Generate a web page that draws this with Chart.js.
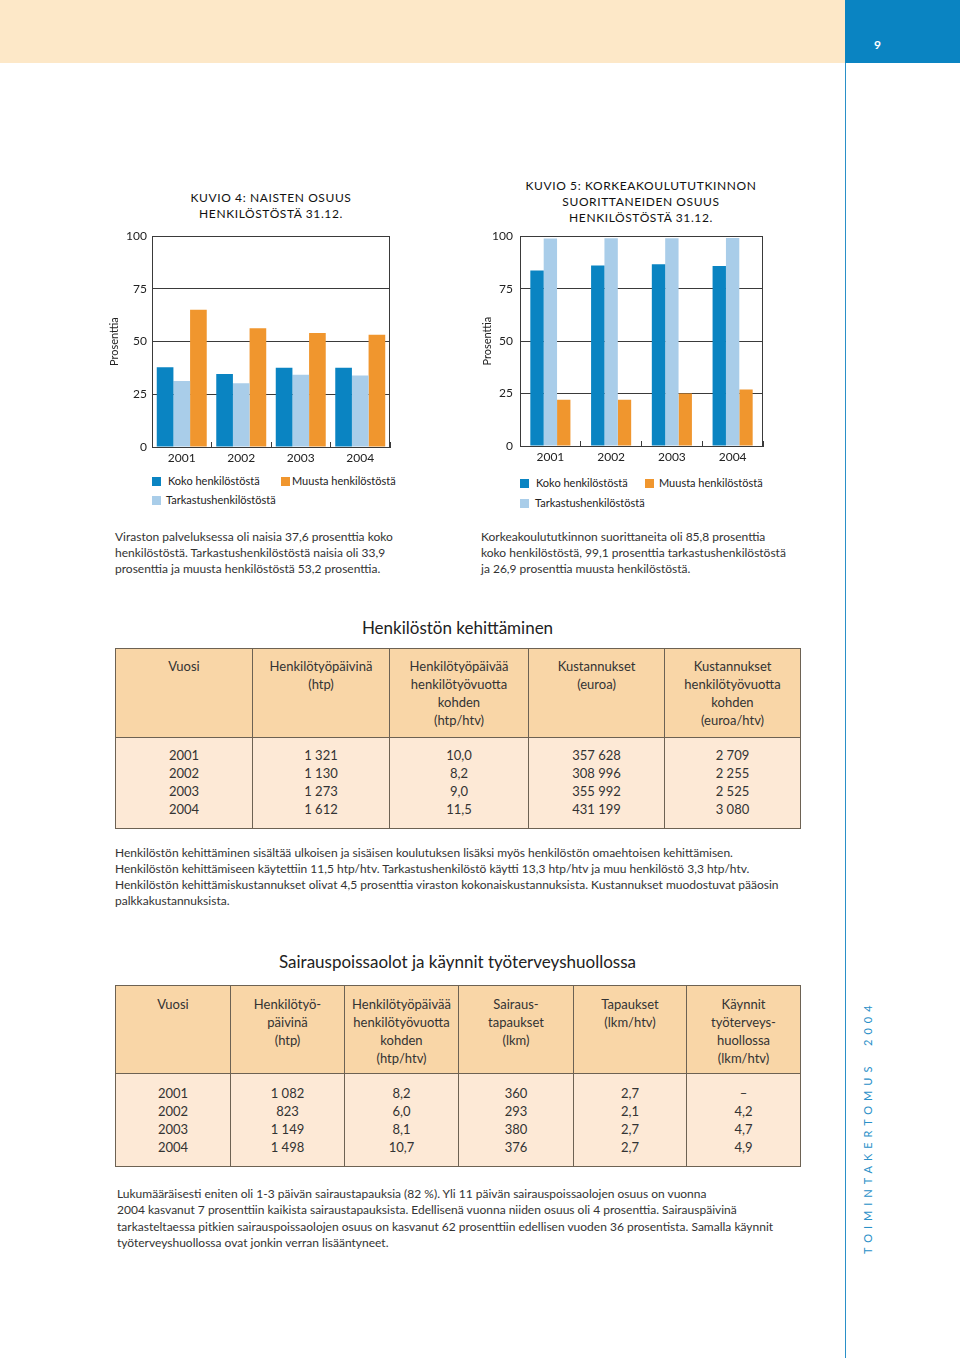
<!DOCTYPE html>
<html lang="fi">
<head>
<meta charset="utf-8">
<title>Toimintakertomus 2004</title>
<script src="https://cdn.jsdelivr.net/npm/chart.js@4.4.1/dist/chart.umd.min.js"></script>
<style>
  html, body { margin: 0; padding: 0; background: #fff; }
  body { width: 960px; height: 1358px; position: relative; overflow: hidden;
         font-family: Lato, "Open Sans", sans-serif; color: #222; }
  .abs { position: absolute; }
  #topband { left: 0; top: 0; width: 845px; height: 63px; background: #fde8c8; }
  #pagebox { left: 845px; top: 0; width: 115px; height: 63px; background: #0a84c2;
             color: #fff; font-weight: bold; font-size: 12px; }
  #pagebox span { position: absolute; left: 29px; top: 37px; }
  #vline { left: 845px; top: 63px; width: 1px; height: 1295px; background: #2a90c8; }
  #vtext { left: 862px; top: 1248px; transform-origin: 0 0; transform: rotate(-90deg);
           white-space: nowrap; color: #2a90c8; font-size: 11px; letter-spacing: 5.0px; line-height: 12px; margin-top: 6px; }
  .ctitle { text-align: center; font-size: 12px; letter-spacing: 0.6px; line-height: 16px; color: #111; }
  .chartbox { position: absolute; }
  .legend { position: absolute; font-size: 11px; color: #222; }
  .legend .item { position: absolute; white-space: nowrap; line-height: 12px; }
  .legend .sw { position: absolute; width: 9px; height: 9px; }
  .para { font-size: 12px; line-height: 16px; color: #333; white-space: nowrap; }
  .heading { font-size: 17px; text-align: center; width: 685px; left: 115px; color: #222; }
  table { border-collapse: collapse; table-layout: fixed; position: absolute; font-size: 13px; color: #333; }
  td { border: 1.5px solid #6d6253; text-align: center; vertical-align: top; line-height: 18px; padding: 0; }
  thead td { background: #f9d6a7; }
  tbody td { background: #fde9d6; }
</style>
</head>
<body>
<div id="topband" class="abs"></div>
<div id="pagebox" class="abs"><span>9</span></div>
<div id="vline" class="abs"></div>
<div id="vtext" class="abs">TOIMINTAKERTOMUS&nbsp;&nbsp;2004</div>

<div class="abs ctitle" style="left:151px; top:190px; width:240px;">KUVIO 4: NAISTEN OSUUS<br>HENKILÖSTÖSTÄ 31.12.</div>
<div class="abs ctitle" style="left:491px; top:178px; width:300px;">KUVIO 5: KORKEAKOULUTUTKINNON<br>SUORITTANEIDEN OSUUS<br>HENKILÖSTÖSTÄ 31.12.</div>

<div class="chartbox" style="left:105px; top:224px; width:295px; height:245px;"><canvas id="chart1"></canvas></div>
<div class="chartbox" style="left:475px; top:222px; width:298px; height:246px;"><canvas id="chart2"></canvas></div>
<div id="legend1" class="legend"></div>
<div id="legend2" class="legend"></div>

<div class="abs para" style="left:115px; top:529px;">Viraston palveluksessa oli naisia 37,6 prosenttia koko<br>henkilöstöstä. Tarkastushenkilöstöstä naisia oli 33,9<br>prosenttia ja muusta henkilöstöstä 53,2 prosenttia.</div>
<div class="abs para" style="left:481px; top:529px;">Korkeakoulututkinnon suorittaneita oli 85,8 prosenttia<br>koko henkilöstöstä, 99,1 prosenttia tarkastushenkilöstöstä<br>ja 26,9 prosenttia muusta henkilöstöstä.</div>

<div class="abs heading" style="top:617px;">Henkilöstön kehittäminen</div>
<table id="table1" style="left:115px; top:648px; width:685px;"></table>
<div class="abs para" style="left:115px; top:845px;">Henkilöstön kehittäminen sisältää ulkoisen ja sisäisen koulutuksen lisäksi myös henkilöstön omaehtoisen kehittämisen.<br>Henkilöstön kehittämiseen käytettiin 11,5 htp/htv. Tarkastushenkilöstö käytti 13,3 htp/htv ja muu henkilöstö 3,3 htp/htv.<br>Henkilöstön kehittämiskustannukset olivat 4,5 prosenttia viraston kokonaiskustannuksista. Kustannukset muodostuvat pääosin<br>palkkakustannuksista.</div>

<div class="abs heading" style="top:951px;">Sairauspoissaolot ja käynnit työterveyshuollossa</div>
<table id="table2" style="left:115px; top:985px; width:685px;"></table>
<div class="abs para" style="left:117px; top:1186px; line-height:16.3px;">Lukumääräisesti eniten oli 1-3 päivän sairaustapauksia (82 %). Yli 11 päivän sairauspoissaolojen osuus on vuonna<br>2004 kasvanut 7 prosenttiin kaikista sairaustapauksista. Edellisenä vuonna niiden osuus oli 4 prosenttia. Sairauspäivinä<br>tarkasteltaessa pitkien sairauspoissaolojen osuus on kasvanut 62 prosenttiin edellisen vuoden 36 prosentista. Samalla käynnit<br>työterveyshuollossa ovat jonkin verran lisääntyneet.</div>

<script>
// Chart data
const years = ['2001', '2002', '2003', '2004'];
const seriesNames = ['Koko henkilöstöstä', 'Tarkastushenkilöstöstä', 'Muusta henkilöstöstä'];
const seriesColors = ['#0a84c2', '#a9cde9', '#f0962e'];
const yTicks = [0, 25, 50, 75, 100];

// Kuvio 4: naisten osuus (%)
const naisetKoko = [37.8, 34.6, 37.6, 37.6];
const naisetTark = [31.3, 30.3, 34.3, 33.9];
const naisetMuu = [65.1, 56.3, 54.1, 53.2];

// Kuvio 5: korkeakoulututkinnon suorittaneet (%)
const korkeaKoko = [83.6, 86.0, 86.6, 85.8];
const korkeaTark = [98.9, 99.0, 99.0, 99.1];
const korkeaMuu = [22.0, 22.0, 25.0, 26.9];

// Tables
const kehHeaders = ['Vuosi', 'Henkilötyöpäivinä<br>(htp)', 'Henkilötyöpäivää<br>henkilötyövuotta<br>kohden<br>(htp/htv)', 'Kustannukset<br>(euroa)', 'Kustannukset<br>henkilötyövuotta<br>kohden<br>(euroa/htv)'];
const kehWidths = [137, 137, 139, 136, 136];
const kehHtp = ['1 321', '1 130', '1 273', '1 612'];
const kehHtpHtv = ['10,0', '8,2', '9,0', '11,5'];
const kehEuro = ['357 628', '308 996', '355 992', '431 199'];
const kehEuroHtv = ['2 709', '2 255', '2 525', '3 080'];

const sairHeaders = ['Vuosi', 'Henkilötyö-<br>päivinä<br>(htp)', 'Henkilötyöpäivää<br>henkilötyövuotta<br>kohden<br>(htp/htv)', 'Sairaus-<br>tapaukset<br>(lkm)', 'Tapaukset<br>(lkm/htv)', 'Käynnit<br>työterveys-<br>huollossa<br>(lkm/htv)'];
const sairWidths = [115, 114, 114, 115, 113, 114];
const sairHtp = ['1 082', '823', '1 149', '1 498'];
const sairHtpHtv = ['8,2', '6,0', '8,1', '10,7'];
const sairLkm = ['360', '293', '380', '376'];
const sairLkmHtv = ['2,7', '2,1', '2,7', '2,7'];
const sairKaynnit = ['–', '4,2', '4,7', '4,9'];

const fontFamily = 'Lato, "Open Sans", sans-serif';
const axisColor = '#3a3a3a';

// Draw the right border of the plot
const framePlugin = {
    id: 'frame',
    afterDraw(chart) {
        const a = chart.chartArea;
        const ctx = chart.ctx;
        ctx.save();
        ctx.strokeStyle = axisColor;
        ctx.lineWidth = 1;
        ctx.beginPath();
        ctx.moveTo(Math.round(a.right) - 0.5, a.top);
        ctx.lineTo(Math.round(a.right) - 0.5, a.bottom);
        ctx.stroke();
        ctx.restore();
    }
};

function makeChart(id, data, opts) {
    const ctx = document.getElementById(id).getContext('2d');
    return new Chart(ctx, {
        type: 'bar',
        data: {
            labels: years,
            datasets: data.map((values, i) => ({
                label: seriesNames[i],
                data: values,
                backgroundColor: seriesColors[i],
                borderWidth: 0,
                barPercentage: 1.0,
                categoryPercentage: opts.catPct
            }))
        },
        options: {
            responsive: true,
            maintainAspectRatio: false,
            animation: false,
            layout: { padding: { top: opts.topPad, right: 10, left: 0, bottom: 0 } },
            plugins: {
                legend: { display: false },
                tooltip: { enabled: false }
            },
            scales: {
                x: {
                    offset: true,
                    grid: {
                        display: true,
                        drawOnChartArea: false,
                        drawTicks: true,
                        tickLength: -5,
                        color: axisColor,
                        offset: true
                    },
                    border: { display: true, color: axisColor, width: 1 },
                    ticks: {
                        color: '#222',
                        padding: 9,
                        font: { family: fontFamily, size: 12 }
                    },
                    afterFit: (s) => { s.height = 22; }
                },
                y: {
                    min: 0,
                    max: 100,
                    afterBuildTicks: (s) => { s.ticks = yTicks.map(v => ({ value: v })); },
                    grid: { color: axisColor, lineWidth: 1, drawTicks: false },
                    border: { display: true, color: axisColor, width: 1 },
                    ticks: {
                        color: '#222',
                        padding: opts.tickPad,
                        font: { family: fontFamily, size: 12 }
                    },
                    title: {
                        display: true,
                        text: 'Prosenttia',
                        color: '#222',
                        padding: { top: opts.titlePad, bottom: 0 },
                        font: { family: fontFamily, size: 11 }
                    },
                    afterFit: (s) => { s.width = opts.axisWidth; }
                }
            }
        },
        plugins: [framePlugin]
    });
}

// HTML legend built from the series arrays
function buildLegend(id, pos) {
    const el = document.getElementById(id);
    const order = [0, 2, 1];
    order.forEach((si, k) => {
        const p = pos[k];
        const sw = document.createElement('div');
        sw.className = 'sw';
        sw.style.left = p[0] + 'px';
        sw.style.top = (p[1] - 4) + 'px';
        sw.style.background = seriesColors[si];
        el.appendChild(sw);
        const tx = document.createElement('div');
        tx.className = 'item';
        tx.style.left = p[2] + 'px';
        tx.style.top = (p[1] - 6) + 'px';
        tx.textContent = seriesNames[si];
        el.appendChild(tx);
    });
}

function buildTable(id, headers, widths, columns) {
    const table = document.getElementById(id);
    const colgroup = document.createElement('colgroup');
    widths.forEach(w => {
        const c = document.createElement('col');
        c.style.width = w + 'px';
        colgroup.appendChild(c);
    });
    table.appendChild(colgroup);
    const thead = document.createElement('thead');
    const hr = document.createElement('tr');
    headers.forEach(h => {
        const td = document.createElement('td');
        td.innerHTML = h;
        hr.appendChild(td);
    });
    thead.appendChild(hr);
    table.appendChild(thead);
    const tbody = document.createElement('tbody');
    const br = document.createElement('tr');
    columns.forEach(col => {
        const td = document.createElement('td');
        td.innerHTML = col.join('<br>');
        br.appendChild(td);
    });
    tbody.appendChild(br);
    table.appendChild(tbody);
    return { hr, br };
}

document.addEventListener('DOMContentLoaded', () => {
    makeChart('chart1', [naisetKoko, naisetTark, naisetMuu], { catPct: 0.84, tickPad: 5, titlePad: 3, axisWidth: 47, topPad: 7 });
    makeChart('chart2', [korkeaKoko, korkeaTark, korkeaMuu], { catPct: 0.66, tickPad: 7, titlePad: 6, axisWidth: 45, topPad: 5 });

    buildLegend('legend1', [[152, 481, 168], [281, 481, 292], [152, 500, 166]]);
    buildLegend('legend2', [[520, 483, 536], [645, 483, 659], [520, 503, 535]]);

    const t1 = buildTable('table1', kehHeaders, kehWidths, [years, kehHtp, kehHtpHtv, kehEuro, kehEuroHtv]);
    t1.hr.style.height = '89px';
    t1.br.style.height = '91px';
    t1.hr.querySelectorAll('td').forEach(td => td.style.paddingTop = '8px');
    t1.br.querySelectorAll('td').forEach(td => td.style.paddingTop = '8px');

    const t2 = buildTable('table2', sairHeaders, sairWidths, [years, sairHtp, sairHtpHtv, sairLkm, sairLkmHtv, sairKaynnit]);
    t2.hr.style.height = '88px';
    t2.br.style.height = '93px';
    t2.hr.querySelectorAll('td').forEach(td => td.style.paddingTop = '9px');
    t2.br.querySelectorAll('td').forEach(td => td.style.paddingTop = '10px');
});
</script>
</body>
</html>
